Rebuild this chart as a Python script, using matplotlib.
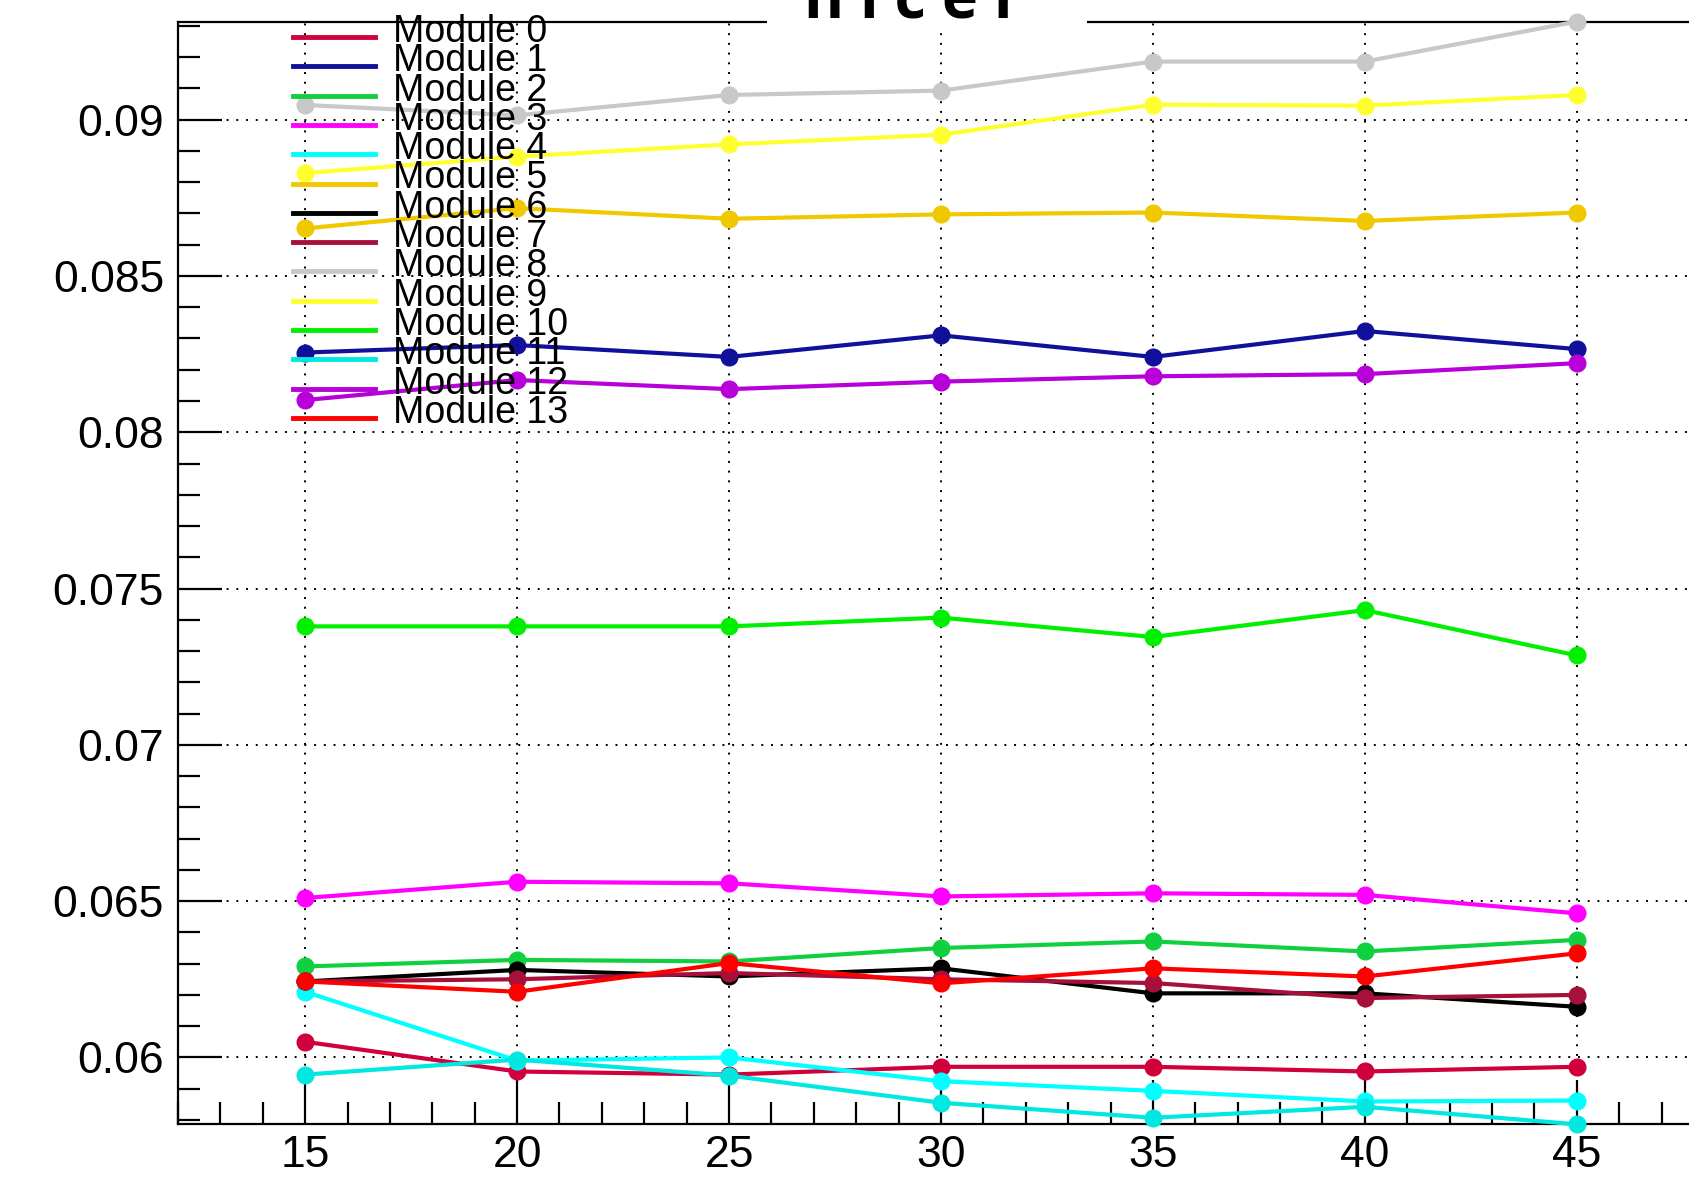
import matplotlib
matplotlib.use("Agg")
import matplotlib.pyplot as plt
from matplotlib.lines import Line2D
from matplotlib.patches import Rectangle
from matplotlib.ticker import MultipleLocator, FuncFormatter

# scan points and per-module values
x = [15, 20, 25, 30, 35, 40, 45]

module_0 = [0.0605, 0.05955, 0.05945, 0.0597, 0.0597, 0.05955, 0.0597]
module_1 = [0.08255, 0.08279, 0.08241, 0.08310, 0.08241, 0.08324, 0.08266]
module_2 = [0.06291, 0.06312, 0.06307, 0.06350, 0.06371, 0.06339, 0.06376]
module_3 = [0.06510, 0.06562, 0.06557, 0.06515, 0.06525, 0.06520, 0.06461]
module_4 = [0.06210, 0.05990, 0.06000, 0.05924, 0.05893, 0.05859, 0.05862]
module_5 = [0.08652, 0.08717, 0.08683, 0.08697, 0.08703, 0.08676, 0.08703]
module_6 = [0.06243, 0.06280, 0.06259, 0.06285, 0.06205, 0.06205, 0.06162]
module_7 = [0.06243, 0.06250, 0.06270, 0.06250, 0.06238, 0.06190, 0.06200]
module_8 = [0.09047, 0.09014, 0.09079, 0.09093, 0.09186, 0.09186, 0.09314]
module_9 = [0.08829, 0.08882, 0.08921, 0.08952, 0.09048, 0.09045, 0.09079]
module_10 = [0.07379, 0.07379, 0.07379, 0.07407, 0.07345, 0.07431, 0.07286]
module_11 = [0.05945, 0.05993, 0.05942, 0.05855, 0.05807, 0.05842, 0.05786]
module_12 = [0.08103, 0.08167, 0.08138, 0.08162, 0.08179, 0.08186, 0.08221]
module_13 = [0.06243, 0.06210, 0.06302, 0.06237, 0.06285, 0.06259, 0.06333]

modules = [module_0, module_1, module_2, module_3, module_4, module_5, module_6,
           module_7, module_8, module_9, module_10, module_11, module_12, module_13]
labels = ["Module %d" % i for i in range(len(modules))]
colors = ["#d0003c", "#10109a", "#10d040", "#ff00ff", "#00ffff", "#f0c800", "#000000",
          "#a8103c", "#c8c8c8", "#ffff30", "#00f000", "#00e8e0", "#b800d8", "#ff0000"]

plt.rcParams["font.family"] = ["Liberation Sans", "DejaVu Sans"]

fig = plt.figure(figsize=(16.9, 11.82), dpi=100)
ax = fig.add_axes([178 / 1690, 58 / 1182, 1526 / 1690, 1102 / 1182])

for vals, col in zip(modules, colors):
    ax.plot(x, vals, color=col, lw=3, marker="o", ms=12, clip_on=False, zorder=3)

ax.set_xlim(12, 48)
ax.set_ylim(0.05787, 0.093125)

ax.xaxis.set_major_locator(MultipleLocator(5))
ax.xaxis.set_minor_locator(MultipleLocator(1))
ax.yaxis.set_major_locator(MultipleLocator(0.005))
ax.yaxis.set_minor_locator(MultipleLocator(0.001))
ax.yaxis.set_major_formatter(FuncFormatter(lambda v, p: "%g" % round(v, 4)))

ax.tick_params(which="major", direction="in", length=32, width=1.6, labelsize=32, pad=10)
ax.tick_params(axis="x", which="major", pad=8)
ax.tick_params(which="minor", direction="in", length=16, width=1.6)
ax.grid(True, which="major", color="black", linestyle=(0, (1, 4)), linewidth=1.4)
for side in ["left", "bottom", "top"]:
    ax.spines[side].set_linewidth(1.6)
ax.spines["right"].set_visible(False)

# legend drawn by hand: line sample + label per row
for i, (lab, col) in enumerate(zip(labels, colors)):
    yc = 32 + i * 29.3
    fig.add_artist(Line2D([293 / 1690, 375 / 1690], [1 - (yc + 5) / 1182] * 2,
                          color=col, lw=3.5, zorder=6))
    fig.text(393 / 1690, 1 - yc / 1182, lab, fontsize=27, va="center", ha="left", zorder=7)

# title box, mostly above the top edge
fig.add_artist(Rectangle((767 / 1690, 1 - 27 / 1182), 320 / 1690, 27 / 1182,
                         facecolor="white", edgecolor="none", zorder=8))
fig.text(913 / 1690, 1 - 17 / 1182, "n i c e r", fontsize=44, fontweight="bold",
         family="Open Sans", ha="center", va="baseline", zorder=9)

fig.savefig("out.png", dpi=100)
